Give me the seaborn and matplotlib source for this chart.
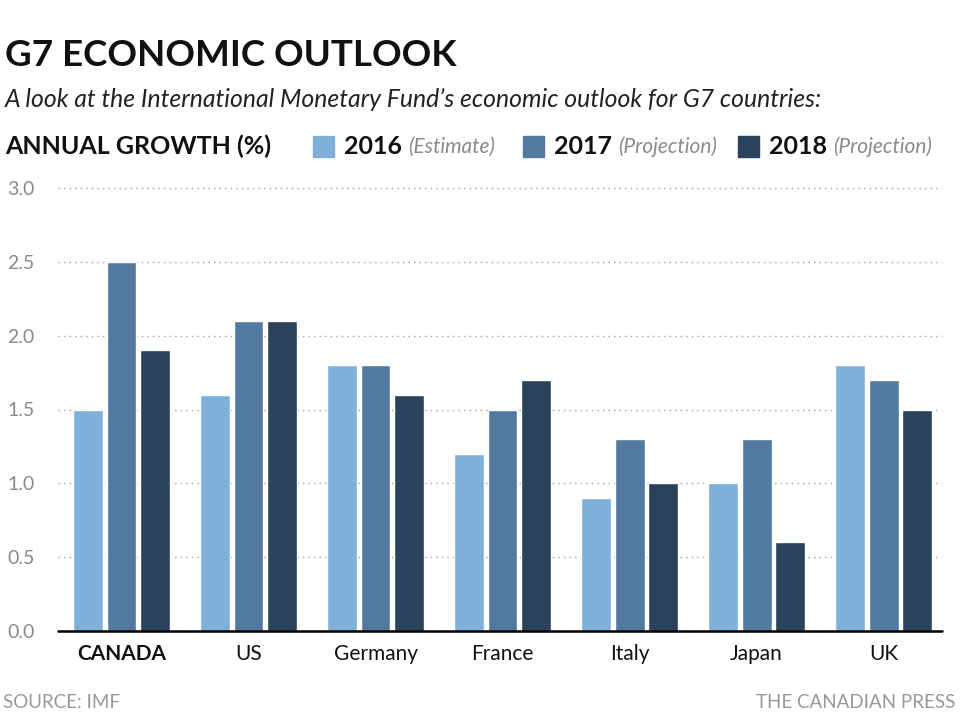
import matplotlib
matplotlib.use("Agg")
import matplotlib.pyplot as plt
from matplotlib.patches import Rectangle
import seaborn as sns
import pandas as pd

countries = ["CANADA", "US", "Germany", "France", "Italy", "Japan", "UK"]
years = ["2016", "2017", "2018"]
notes = ["(Estimate)", "(Projection)", "(Projection)"]
growth_2016 = [1.5, 1.6, 1.8, 1.2, 0.9, 1.0, 1.8]
growth_2017 = [2.5, 2.1, 1.8, 1.5, 1.3, 1.3, 1.7]
growth_2018 = [1.9, 2.1, 1.6, 1.7, 1.0, 0.6, 1.5]
yticks = [0.0, 0.5, 1.0, 1.5, 2.0, 2.5, 3.0]
colors = ["#7EB0DA", "#527AA0", "#2A425C"]

FONT = "Lato"

rows = []
for yr, vals in zip(years, [growth_2016, growth_2017, growth_2018]):
    for c, v in zip(countries, vals):
        rows.append({"country": c, "year": yr, "growth": v})
df = pd.DataFrame(rows)

sns.set_theme(style="white")
plt.rcParams["font.family"] = [FONT, "DejaVu Sans"]

fig = plt.figure(figsize=(9.6, 7.23), dpi=100)
W, H = 960, 723
ax = fig.add_axes([58 / W, 1 - 631 / H, (942 - 58) / W, (631 - 188) / H])

sns.barplot(data=df, x="country", y="growth", hue="year", palette=colors,
            order=countries, hue_order=years, width=0.785, gap=0.1,
            saturation=1, legend=False, ax=ax)

ax.set_ylim(0, 3.0)
ax.set_xlim(-0.5, 6.46)
ax.set_yticks(yticks)
ax.set_yticklabels([f"{t:.1f}" for t in yticks])
ax.set_xlabel("")
ax.set_ylabel("")
for s in ax.spines.values():
    s.set_visible(False)
ax.yaxis.grid(True, linestyle=(0, (1, 3)), color="#a0a0a0", linewidth=1.0)
ax.set_axisbelow(True)
for gl in ax.yaxis.get_gridlines():
    gl.set_clip_on(False)
ax.axhline(0, color="black", linewidth=1.8, zorder=5, clip_on=False)
ax.tick_params(axis="y", length=0, pad=17, labelsize=14, labelcolor="#8a8a8a")
ax.tick_params(axis="x", length=0, pad=9, labelsize=15, labelcolor="#111111")
for lab in ax.get_xticklabels():
    if lab.get_text() == "CANADA":
        lab.set_fontweight("bold")

# Titles
fig.text(5 / W, 1 - 55 / H, "G7 ECONOMIC OUTLOOK", fontsize=26.5, fontweight="bold",
         color="#111111", va="center", ha="left")
fig.text(5 / W, 1 - 99 / H, "A look at the International Monetary Fund\u2019s economic outlook for G7 countries:",
         fontsize=17.8, fontstyle="italic", color="#222222", va="center", ha="left")
fig.text(5 / W, 1 - 146 / H, "ANNUAL GROWTH (%)", fontsize=18, fontweight="bold",
         color="#111111", va="center", ha="left")

# Legend
leg_x = [313, 523, 738]
for x0, yr, nt, col in zip(leg_x, years, notes, colors):
    fig.patches.append(Rectangle((x0 / W, 1 - 157 / H), 21 / W, 21 / H,
                                 transform=fig.transFigure, color=col, figure=fig))
    t = fig.text((x0 + 31) / W, 1 - 146 / H, yr, fontsize=18, fontweight="bold",
                 color="#111111", va="center", ha="left")
    fig.canvas.draw()
    bb = t.get_window_extent()
    fig.text((bb.x1 + 6) / W, 1 - 147 / H, nt, fontsize=15, fontstyle="italic",
             color="#8a8a8a", va="center", ha="left")

# Footer
fig.text(3 / W, 1 - 702 / H, "SOURCE: IMF", fontsize=13.5, color="#999999",
         va="center", ha="left")
fig.text(955 / W, 1 - 702 / H, "THE CANADIAN PRESS", fontsize=13.5, color="#999999",
         va="center", ha="right")

fig.savefig("out.png", dpi=100)
